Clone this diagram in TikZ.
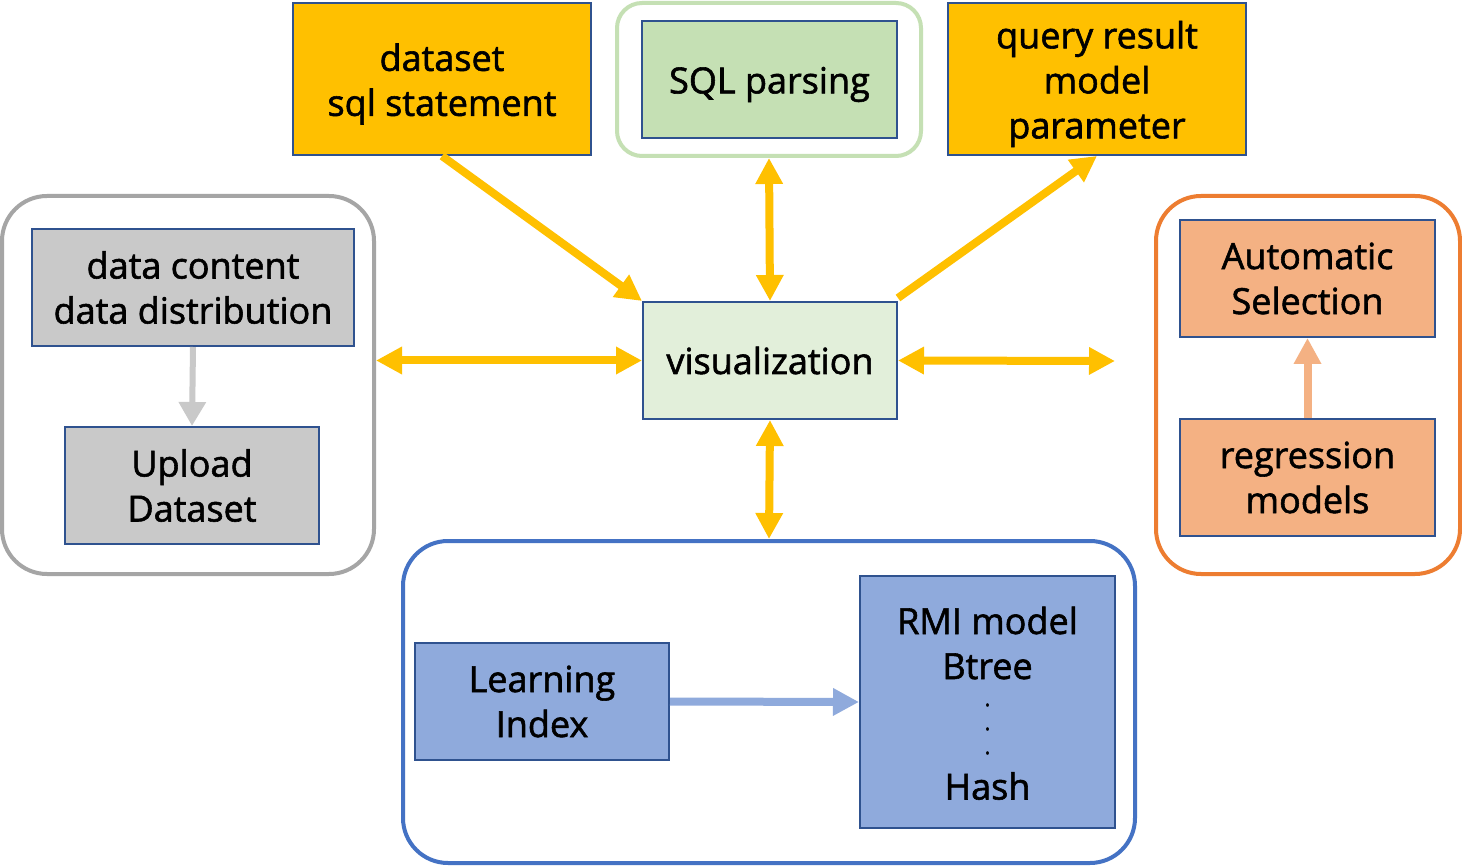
\documentclass[tikz,border=0pt]{standalone}
\usepackage{fontspec}
\setmainfont{Open Sans}[FakeBold=1.6]
\usetikzlibrary{arrows.meta}
\definecolor{gold}{HTML}{FFC000}
\definecolor{edge}{HTML}{2F528F}
\definecolor{lgreen}{HTML}{C5E0B4}
\definecolor{pgreen}{HTML}{E2EFDA}
\definecolor{lgray}{HTML}{C9C9C9}
\definecolor{fgray}{HTML}{A5A5A5}
\definecolor{orng}{HTML}{ED7D31}
\definecolor{peach}{HTML}{F4B183}
\definecolor{bblue}{HTML}{4472C4}
\definecolor{lblue}{HTML}{8FAADC}
\tikzset{
  box/.style={draw=edge, line width=2pt, align=center, inner sep=0pt,
    font=\fontsize{36}{45}\selectfont, text=black},
  txt/.style={align=center, inner sep=0pt, font=\fontsize{36}{45}\selectfont, text=black},
  dotmark/.style={inner sep=0pt, font=\fontsize{22}{24}\selectfont, text=black},
  grp/.style={line width=4pt, rounded corners=45pt, inner sep=0pt},
  biarrow/.style={draw=gold, line width=8pt, {Triangle[length=26pt,width=26pt]}-{Triangle[length=26pt,width=26pt]}},
  onearrow/.style={draw=gold, line width=8pt, -{Triangle[length=26pt,width=26pt]}},
}
\begin{document}
\begin{tikzpicture}[x=1pt,y=-1pt]
\useasboundingbox[fill=white] (0,0) rectangle (1462,866);
% groups
\node[grp, draw=fgray, minimum width=372pt, minimum height=378pt] (leftgrp) at (188,385) {};
\node[grp, draw=lgreen, rounded corners=25pt, minimum width=304pt, minimum height=153pt] (sqlgrp) at (769,79.5) {};
\node[grp, draw=orng, minimum width=304pt, minimum height=378pt] (rightgrp) at (1308,385) {};
\node[grp, draw=bblue, minimum width=732pt, minimum height=322pt] (botgrp) at (769,702) {};
% boxes
\node[box, fill=gold, minimum width=298pt, minimum height=152pt] (ds) at (442,79) {};
\node[txt] (dst) at (442,84) {dataset\\sql statement};
\node[box, fill=lgreen, minimum width=255pt, minimum height=117pt] (sql) at (769.5,79.5) {};
\node[txt] (sqlt) at (769.5,84.5) {SQL parsing};
\node[box, fill=gold, minimum width=298pt, minimum height=152pt] (qr) at (1097,79) {};
\node[txt] (qrt) at (1097,84) {query result\\model\\parameter};
\node[box, fill=lgray, minimum width=322pt, minimum height=117pt] (dc) at (193,287.5) {data content\\data distribution};
\node[box, fill=lgray, minimum width=254pt, minimum height=117pt] (up) at (192,485.5) {Upload\\Dataset};
\node[box, fill=pgreen, minimum width=254pt, minimum height=117pt] (vis) at (770,360.5) {visualization};
\node[box, fill=peach, minimum width=255pt, minimum height=117pt] (auto) at (1307.5,278.5) {Automatic\\Selection};
\node[box, fill=peach, minimum width=255pt, minimum height=117pt] (reg) at (1307.5,477.5) {regression\\models};
\node[box, fill=lblue, minimum width=254pt, minimum height=117pt] (li) at (542,701.5) {Learning\\Index};
\node[box, fill=lblue, minimum width=255pt, minimum height=252pt] (rmi) at (987.5,702) {};
\node[txt] (rmit) at (987.5,643) {RMI model\\Btree};
\node[dotmark] (dot1) at (987.5,705) {.};
\node[dotmark] (dot2) at (987.5,729) {.};
\node[dotmark] (dot3) at (987.5,753) {.};
\node[txt] (hash) at (987.5,786) {Hash};
% inner arrows
\draw[draw=lgray, line width=6pt, -{Triangle[length=24pt,width=26pt]}] (dc.south) -- (up.north);
\draw[draw=peach, line width=8pt, -{Triangle[length=26pt,width=26pt]}] (reg.north) -- (auto.south);
\draw[draw=lblue, line width=8pt, -{Triangle[length=26pt,width=26pt]}] (li.east) -- (rmi.west);
% yellow arrows
\coordinate (rend) at (1115,361);
\draw[biarrow] (leftgrp.east |- vis.west) -- (vis.west);
\draw[biarrow] (vis.east) -- (rend);
\draw[biarrow] (sqlgrp.south) -- (vis.north);
\draw[biarrow] (vis.south) -- (botgrp.north);
\draw[onearrow] (ds.south) -- (vis.north west);
\draw[onearrow] ([yshift=3pt]vis.north east) -- (qr.south);
\end{tikzpicture}
\end{document}
